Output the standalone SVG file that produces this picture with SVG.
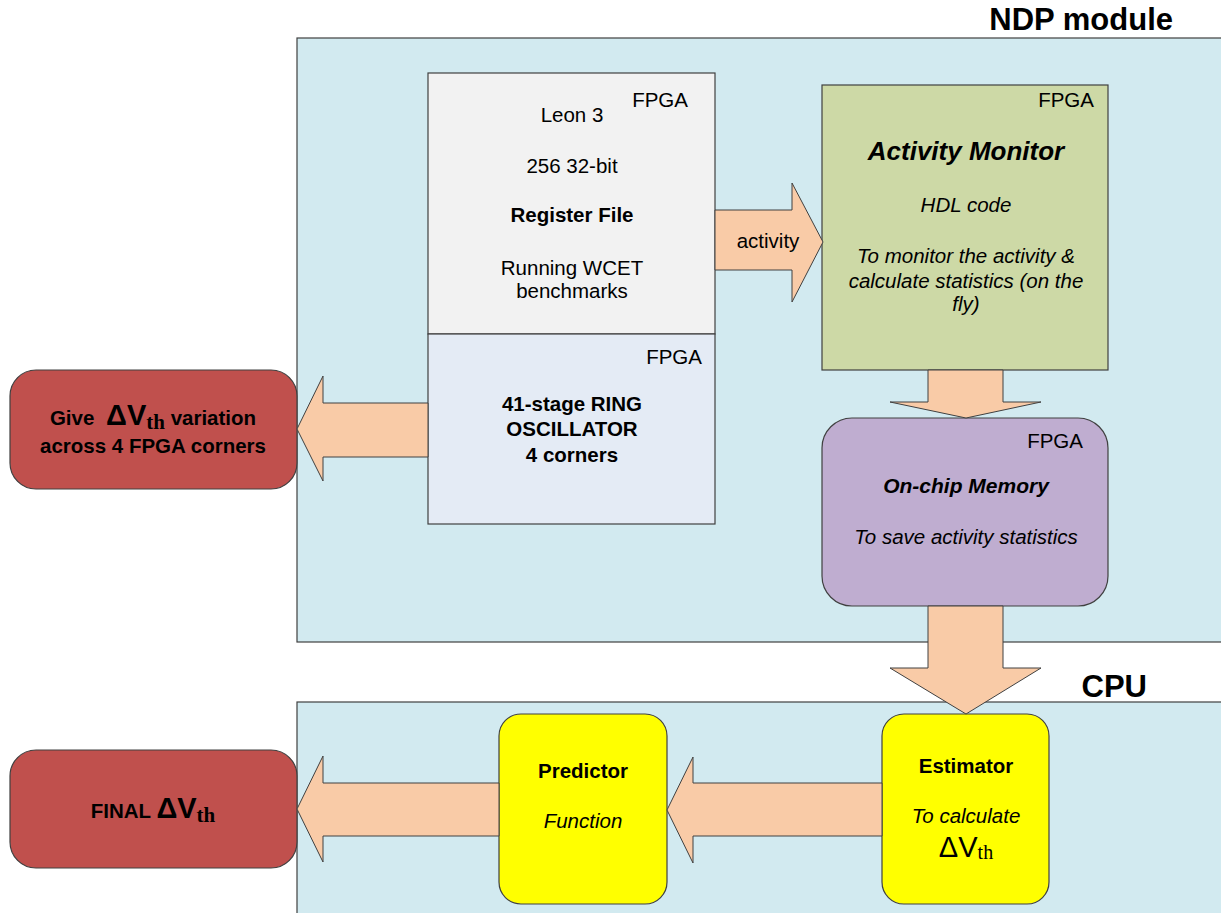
<svg xmlns="http://www.w3.org/2000/svg" width="1221" height="913" viewBox="0 0 1221 913">
<style>
text{font-family:"Liberation Sans",Arial,sans-serif;fill:#000}
.t{font-size:20.5px}
.b{font-weight:bold}
.i{font-style:italic}
.c{text-anchor:middle}
.r{text-anchor:end}
.s{font-family:"Liberation Serif","Times New Roman",serif;font-weight:bold}
.ln{stroke:#404040;stroke-width:1.2}
.arrow{fill:#f9cba7;stroke:#404040;stroke-width:1}
</style>
<rect width="1221" height="913" fill="#ffffff"/>
<g id="ndp">
<rect class="ln" x="297" y="38" width="940" height="604" fill="#d2eaf0"/>
<text x="1173" y="30" class="b r" font-size="31">NDP module</text>
</g>
<g id="cpu">
<rect class="ln" x="297" y="702" width="940" height="230" fill="#d2eaf0"/>
<text x="1147" y="697" class="b r" font-size="31">CPU</text>
</g>
<g id="regfile">
<rect class="ln" x="428" y="73" width="287" height="261" fill="#f2f2f2"/>
<text x="688" y="107" class="t r">FPGA</text>
<text x="572" y="122" class="t c">Leon 3</text>
<text x="572" y="173" class="t c">256 32-bit</text>
<text x="572" y="222" class="t c b">Register File</text>
<text x="572" y="275" class="t c">Running WCET</text>
<text x="572" y="298" class="t c">benchmarks</text>
</g>
<g id="ring">
<rect class="ln" x="428" y="334" width="287" height="190" fill="#e4ebf5"/>
<text x="702" y="364" class="t r">FPGA</text>
<text x="572" y="411" class="t c b">41-stage RING</text>
<text x="572" y="436" class="t c b">OSCILLATOR</text>
<text x="572" y="462" class="t c b">4 corners</text>
</g>
<g id="monitor">
<rect class="ln" x="822" y="85" width="286" height="285" fill="#cdd9a6"/>
<text x="1094" y="107" class="t r">FPGA</text>
<text x="966" y="160" class="c b i" font-size="26">Activity Monitor</text>
<text x="966" y="212" class="t c i">HDL code</text>
<text x="966" y="263" class="t c i">To monitor the activity &amp;</text>
<text x="966" y="288" class="t c i">calculate statistics (on the</text>
<text x="966" y="311" class="t c i">fly)</text>
</g>
<g id="memory">
<rect class="ln" x="822" y="418" width="286" height="188" rx="30" fill="#bfadd0"/>
<text x="1083" y="448" class="t r">FPGA</text>
<text x="966" y="493" class="c b i" font-size="21">On-chip Memory</text>
<text x="966" y="544" class="t c i">To save activity statistics</text>
</g>
<g id="give">
<rect class="ln" x="10" y="370" width="287" height="119" rx="26" fill="#c0504d"/>
<text x="153" y="425" class="c b" font-size="20.5">Give <tspan dx="6" font-size="29">ΔV</tspan><tspan class="s" font-size="21" dy="4">th</tspan><tspan dy="-4"> variation</tspan></text>
<text x="153" y="453" class="c b" font-size="20.5">across 4 FPGA corners</text>
</g>
<g id="final">
<rect class="ln" x="10" y="750" width="287" height="118" rx="26" fill="#c0504d"/>
<text x="153" y="818" class="c b" font-size="20.5">FINAL <tspan font-size="29">ΔV</tspan><tspan class="s" font-size="21" dy="4">th</tspan></text>
</g>
<g id="predictor">
<rect class="ln" x="499" y="714" width="168" height="190" rx="22" fill="#ffff00"/>
<text x="583" y="778" class="t c b">Predictor</text>
<text x="583" y="828" class="t c i">Function</text>
</g>
<g id="estimator">
<rect class="ln" x="882" y="714" width="167" height="190" rx="22" fill="#ffff00"/>
<text x="966" y="773" class="t c b">Estimator</text>
<text x="966" y="823" class="t c i">To calculate</text>
<text x="966" y="857" class="c" font-size="29">ΔV<tspan font-family="Liberation Serif,serif" font-size="20" dy="2">th</tspan></text>
</g>
<g id="connectors">
<path class="arrow" d="M715,210 L792,210 L792,183 L823,242 L792,302 L792,270 L715,270 Z"/>
<path class="arrow" d="M928,370 L1003,370 L1003,402 L1041,402 L966,418 L890,402 L928,402 Z"/>
<path class="arrow" d="M928,606 L1003,606 L1003,668 L1041,668 L966,714 L890,668 L928,668 Z"/>
<path class="arrow" d="M428,403 L323,403 L323,376 L297,429 L323,481 L323,457 L428,457 Z"/>
<path class="arrow" d="M882,783 L693,783 L693,757 L667,810 L693,863 L693,836 L882,836 Z"/>
<path class="arrow" d="M499,783 L323,783 L323,756 L297,809 L323,862 L323,836 L499,836 Z"/>
<text x="768" y="248" class="t c">activity</text>
</g>
</svg>
